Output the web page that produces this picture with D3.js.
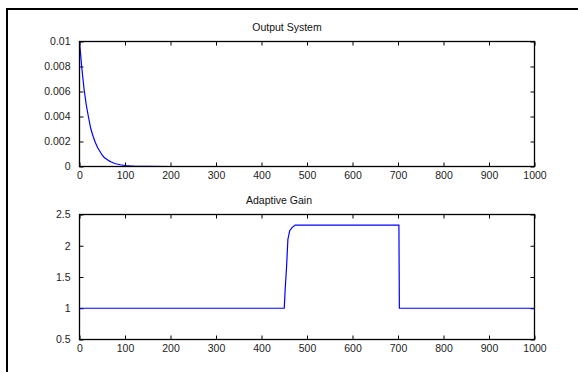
<!DOCTYPE html>
<html>
<head>
<meta charset="utf-8">
<script src="https://cdn.jsdelivr.net/npm/d3@7"></script>
<style>
  body { margin: 0; background: #fff; }
  svg { display: block; font-family: "Liberation Sans", Arial, sans-serif; }
</style>
</head>
<body>
<div id="chart"></div>
<script>
// values
const outputX = [0, 5, 10, 15, 20, 25, 30, 35, 40, 45, 50, 55, 60, 65, 70, 75, 80, 90, 100, 110, 120, 150, 200, 300, 400, 500, 600, 700, 800, 900, 1000];
const outputY = [0.01, 0.0079, 0.0062, 0.0049, 0.0039, 0.0030, 0.0024, 0.0019, 0.0015, 0.0012, 0.0009, 0.0007, 0.00058, 0.00045, 0.00036, 0.00028, 0.00022, 0.00014, 0.00008, 0.00005, 0.00003, 0.00001, 0, 0, 0, 0, 0, 0, 0, 0, 0];

const gainX = [0, 450, 452, 455, 458, 462, 467, 474, 702, 703, 1000];
const gainY = [1, 1, 1.3, 1.65, 2.1, 2.24, 2.29, 2.33, 2.33, 1, 1];

const xTicks = [0, 100, 200, 300, 400, 500, 600, 700, 800, 900, 1000];
const outputTicks = [0, 0.002, 0.004, 0.006, 0.008, 0.01];
const gainTicks = [0.5, 1, 1.5, 2, 2.5];

const width = 578, height = 372;

const svg = d3.select('#chart')
  .append('svg')
  .attr('width', width)
  .attr('height', height);

// outer figure frame (right/bottom edges run off the picture)
svg.append('rect')
  .attr('x', 7).attr('y', 9)
  .attr('width', 700).attr('height', 500)
  .attr('fill', 'none')
  .attr('stroke', '#000')
  .attr('stroke-width', 2);

const panels = [
  { title: 'Output System', titleX: 287, titleY: 31, top: 41.5, bottom: 166.5,
    domain: [0, 0.01], ticks: outputTicks, xs: outputX, ys: outputY },
  { title: 'Adaptive Gain', titleX: 279, titleY: 204, top: 214.5, bottom: 339.5,
    domain: [0.5, 2.5], ticks: gainTicks, xs: gainX, ys: gainY }
];

const left = 79.5, right = 534.5;
const fmt = d3.format('~g');

panels.forEach(p => {
  const x = d3.scaleLinear().domain([0, 1000]).range([left, right]);
  const y = d3.scaleLinear().domain(p.domain).range([p.bottom, p.top]);

  const g = svg.append('g');

  // inward ticks on all four sides
  g.append('g')
    .attr('transform', `translate(0,${p.bottom})`)
    .call(d3.axisBottom(x).tickValues(xTicks).tickSize(-4).tickSizeOuter(0).tickPadding(5).tickFormat(fmt));
  g.append('g')
    .attr('transform', `translate(0,${p.top})`)
    .call(d3.axisTop(x).tickValues(xTicks).tickSize(-4).tickSizeOuter(0).tickFormat(''));
  g.append('g')
    .attr('transform', `translate(${left},0)`)
    .call(d3.axisLeft(y).tickValues(p.ticks).tickSize(-4).tickSizeOuter(0).tickPadding(9).tickFormat(fmt));
  g.append('g')
    .attr('transform', `translate(${right},0)`)
    .call(d3.axisRight(y).tickValues(p.ticks).tickSize(-4).tickSizeOuter(0).tickFormat(''));

  g.selectAll('.domain').remove();
  g.selectAll('.tick line').attr('stroke', '#000');
  g.selectAll('.tick text')
    .attr('fill', '#222')
    .attr('font-size', 10.5)
    .attr('font-family', '"Liberation Sans", Arial, sans-serif');

  const points = p.xs.map((v, i) => [v, p.ys[i]]);
  g.append('path')
    .datum(points)
    .attr('fill', 'none')
    .attr('stroke', '#0000ff')
    .attr('stroke-width', 1.2)
    .attr('d', d3.line().x(d => x(d[0])).y(d => y(d[1])));

  g.append('rect')
    .attr('x', left).attr('y', p.top)
    .attr('width', right - left).attr('height', p.bottom - p.top)
    .attr('fill', 'none')
    .attr('stroke', '#000')
    .attr('stroke-width', 1.3);

  svg.append('text')
    .attr('x', p.titleX).attr('y', p.titleY)
    .attr('text-anchor', 'middle')
    .attr('font-size', 10.5)
    .attr('fill', '#111')
    .text(p.title);
});
</script>
</body>
</html>
